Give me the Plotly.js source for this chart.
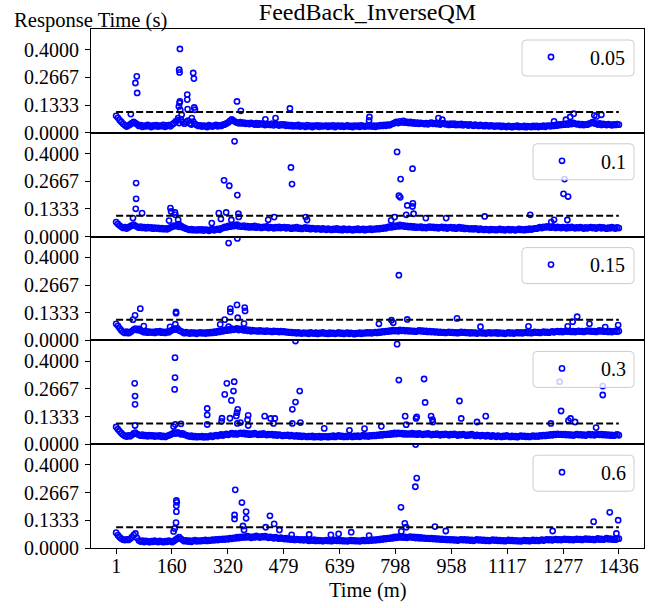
<!DOCTYPE html>
<html>
<head>
<meta charset="utf-8">
<script src="https://cdn.plot.ly/plotly-3.0.1.min.js"></script>
<style>
  html, body { margin: 0; padding: 0; background: #ffffff; }
  #chart { width: 657px; height: 608px; }
</style>
</head>
<body>
<div id="chart"></div>
<script>
// ---- data ---------------------------------------------------------------
// Legend labels of the five panels (top to bottom).
const seriesNames = ['0.05', '0.1', '0.15', '0.3', '0.6'];

// Axis ticks.
const xTickVals = [1, 160, 320, 479, 639, 798, 958, 1117, 1277, 1436];
const yTickVals = [0, 0.1333, 0.2667, 0.4];
const yTickText = ['0.0000', '0.1333', '0.2667', '0.4000'];

// Target response time drawn as the dashed reference line (s).
const threshold = 0.1;
const firstMinute = 1;
const lastMinute = 1436;
const stepMinutes = 5;

// Typical response time, one sample every 5 minutes from minute 1 (ms).
const rt005 = [
  82,72,61,52,43,36,30,35, 40,47,52,46,41,33,37,29, 35,31,38,33,28,36,32,37,
  30,35,32,38,29,34,37,31, 40,46,55,60,47,64,53,44, 51,58,45,40,54,43,37,33,
  36,30,35,32,28,37,33,30, 35,38,31,36,33,39,40,45, 50,57,64,58,53,49,46,51,
  45,49,43,47,42,48,44,40, 46,39,45,41,44,37,43,40, 38,44,36,42,39,35,41,37,
  40,34,38,33,37,31,36,32, 38,30,35,33,29,37,31,35, 28,34,32,36,29,35,31,33,
  35,29,34,31,36,28,33,35, 30,34,29,32,36,30,33,28, 35,31,34,29,36,32,30,35,
  31,36,30,34,29,35,32,37, 33,38,34,39,36,41,44,48, 52,47,55,50,57,49,53,47,
  52,46,50,44,49,43,48,45, 42,47,41,46,49,43,47,42, 45,40,44,46,41,43,38,44,
  39,44,37,42,38,43,36,41, 39,35,40,37,34,39,36,33, 38,35,32,37,34,31,36,33,
  30,35,31,34,29,33,30,28, 33,31,27,32,30,34,28,31, 29,33,27,32,30,28,33,29,
  33,28,32,30,34,29,33,35, 31,36,33,38,35,40,37,42, 39,44,40,46,42,48,44,41,
  43,38,42,37,41,39,44,47, 51,46,44,40,45,38,43,40, 37,42,39,36,41,38,42,39
];
const rt01 = [
  70,61,53,47,42,45,39,44, 49,54,58,52,47,43,48,42, 46,40,45,41,44,38,43,39,
  42,37,41,36,40,35,39,44, 48,53,50,55,47,52,45,42, 38,35,32,36,31,34,30,35,
  31,35,29,34,32,28,33,36, 30,34,37,33,39,42,47,44, 51,48,55,50,53,57,49,52,
  48,53,46,50,44,49,45,51, 43,48,46,42,47,44,49,41, 46,43,40,45,42,47,41,44,
  46,40,44,42,38,43,40,45, 39,42,37,41,44,38,42,36, 41,38,35,40,37,34,39,36,
  33,38,35,32,37,34,39,33, 36,31,38,35,32,37,34,30, 36,33,38,32,35,37,31,36,
  34,38,33,37,35,39,36,41, 38,43,40,45,48,44,51,47, 53,49,56,50,54,48,52,46,
  50,45,49,43,47,44,48,42, 46,41,45,48,43,47,42,45, 40,44,47,41,45,39,43,46,
  40,44,38,42,45,39,43,37, 41,38,36,40,35,39,37,33, 38,35,32,36,34,31,36,33,
  35,31,34,37,32,35,30,34, 36,31,35,33,30,34,37,32, 35,31,36,33,38,34,37,40,
  38,42,45,41,47,44,49,46, 43,48,45,42,47,44,41,46, 43,40,45,42,47,43,40,44,
  41,45,42,39,44,40,43,46, 41,44,39,43,45,40,44,41, 38,43,40,45,42,39,44,41
];
const rt015 = [
  80,70,58,48,40,36,42,35, 39,45,52,57,50,55,47,43, 39,44,37,42,38,41,36,43,
  39,44,37,41,36,42,39,45, 50,56,52,58,48,44,39,35, 40,36,33,38,34,37,32,36,
  39,34,37,33,38,35,40,36, 42,38,44,41,47,44,50,47, 53,49,56,51,54,58,50,55,
  52,48,53,46,50,44,49,45, 47,43,48,44,46,42,47,43, 45,41,46,42,44,40,45,41,
  43,39,41,37,40,36,39,34, 38,35,33,37,34,36,32,38, 35,33,37,31,36,34,38,33,
  35,31,37,33,36,32,34,38, 33,36,31,35,37,32,36,34, 30,35,33,37,32,36,34,38,
  35,39,34,37,40,36,41,38, 43,40,45,42,47,44,49,45, 48,44,50,46,49,45,48,44,
  47,43,46,42,45,48,44,47, 42,46,41,44,40,43,39,42, 38,41,37,40,36,39,41,37,
  40,36,39,35,38,41,37,40, 36,39,34,38,35,37,33,36, 39,34,37,33,36,38,34,37,
  35,38,33,37,34,36,32,35, 38,34,37,33,36,39,35,38, 34,37,40,36,39,35,38,41,
  37,40,36,39,42,38,41,37, 40,43,39,42,45,41,44,40, 43,46,42,45,41,44,40,43,
  46,42,45,41,44,47,43,46, 42,45,41,44,48,43,46,42, 45,41,44,40,43,46,42,45
];
const rt03 = [
  83,72,62,53,45,40,37,42, 38,44,52,56,49,45,41,46, 40,44,38,43,39,42,37,41,
  38,42,36,40,35,39,42,46, 50,55,51,57,53,48,52,46, 43,40,37,41,35,39,34,38,
  35,39,33,37,34,38,41,36, 40,44,39,43,47,42,46,50, 45,49,53,48,52,47,51,55,
  50,54,48,52,46,51,47,53, 49,45,50,46,52,47,44,49, 45,48,43,47,42,46,44,40,
  44,41,45,39,43,40,38,42, 37,41,36,40,38,35,39,36, 40,34,38,35,39,33,37,36,
  38,34,39,36,41,35,38,42, 37,40,35,39,36,42,38,35, 40,37,41,36,39,43,38,41,
  37,42,39,44,40,45,42,47, 43,48,45,50,46,52,48,54, 49,55,50,53,48,52,47,51,
  48,53,47,51,46,52,49,45, 50,47,52,48,44,49,46,51, 47,43,48,45,50,46,43,48,
  45,50,46,42,47,44,49,45, 41,46,43,48,44,40,45,42, 39,44,41,38,43,40,37,42,
  39,36,41,38,35,40,37,42, 38,35,40,36,39,34,38,41, 37,40,36,39,35,38,41,37,
  40,37,42,39,44,40,45,42, 47,43,48,45,50,46,49,45, 48,44,47,43,46,42,45,48,
  44,47,43,46,42,45,48,44, 47,43,46,49,45,48,44,47, 43,46,42,45,41,44,47,43
];
const rt06 = [
  74,62,52,45,40,38,41,39, 44,52,62,70,48,36,31,35, 29,34,32,28,33,30,35,31,
  29,34,31,28,33,30,35,32, 29,34,40,46,52,44,38,33, 37,31,35,30,34,38,32,36,
  33,37,35,39,34,38,36,40, 37,41,38,43,40,44,41,45, 42,47,44,49,46,52,48,53,
  50,55,51,57,53,49,55,51, 58,54,50,56,52,57,53,49, 54,50,47,52,48,45,50,46,
  43,47,42,45,40,44,39,43, 41,38,42,37,41,38,35,39, 36,40,34,38,35,37,33,36,
  38,34,37,33,36,39,35,38, 34,37,33,36,32,35,38,34, 37,33,36,32,35,38,34,37,
  35,39,36,40,37,42,39,44, 41,46,43,48,45,50,47,53, 49,55,51,54,50,53,49,52,
  55,50,53,48,52,47,51,46, 49,45,48,44,47,43,46,42, 45,41,44,40,43,39,42,38,
  41,37,40,36,39,42,38,41, 37,40,36,39,35,38,41,37, 40,36,39,35,38,34,37,40,
  36,39,35,38,34,37,33,36, 39,35,38,34,37,33,36,32, 35,38,34,37,33,36,39,35,
  38,34,37,40,36,39,42,38, 41,37,40,43,39,42,38,41, 44,40,43,39,42,38,41,44,
  40,43,39,42,45,41,44,40, 43,39,42,46,41,44,40,43, 47,42,45,41,44,40,43,45
];

// Slow requests: minute of occurrence and response time (s).
const spikeT005 = [43,56,60,61,178,180,181,182,183,183,182,184,188,204,204,205,217,221,223,224,226,
  346,357,427,456,497,723,724,921,932,1251,1285,1297,1307,1366,1372,1386];
const spikeV005 = [0.090,0.240,0.272,0.192,0.071,0.127,0.304,0.291,0.404,0.151,0.143,0.110,0.087,0.184,0.160,0.114,0.071,0.288,0.261,0.122,0.111,
  0.151,0.106,0.065,0.071,0.117,0.060,0.076,0.071,0.063,0.055,0.063,0.076,0.092,0.084,0.079,0.087];

const spikeT01 = [49,57,58,58,75,152,156,158,169,170,178,180,274,294,300,309,315,324,330,339,347,350,351,
  435,452,500,503,542,546,786,796,803,808,812,813,829,832,847,847,848,850,885,943,1053,1183,
  1243,1251,1278,1281,1289,1291];
const spikeV01 = [0.089,0.134,0.182,0.258,0.113,0.077,0.137,0.121,0.116,0.105,0.081,0.060,0.065,0.113,0.085,0.271,0.116,0.245,0.080,0.459,0.200,0.110,0.095,
  0.081,0.094,0.333,0.253,0.094,0.080,0.078,0.094,0.408,0.197,0.189,0.277,0.105,0.150,0.327,0.145,0.160,0.110,0.089,0.089,0.097,0.105,
  0.070,0.081,0.206,0.277,0.080,0.193];

const spikeT015 = [49,55,70,80,155,170,172,172,298,311,322,322,327,327,346,347,348,366,368,369,
  751,787,792,808,832,974,1041,1178,1290,1304,1317,1352,1397,1434];
const spikeV015 = [0.100,0.121,0.153,0.069,0.065,0.078,0.137,0.131,0.077,0.100,0.469,0.066,0.153,0.137,0.171,0.491,0.109,0.081,0.158,0.142,
  0.080,0.097,0.085,0.314,0.101,0.106,0.066,0.068,0.068,0.090,0.114,0.080,0.064,0.074];

const spikeT03 = [54,55,55,55,165,169,169,168,170,186,261,261,261,303,302,311,317,326,330,336,338,344,346,348,347,
  356,376,378,378,425,442,450,454,504,504,513,513,525,527,595,667,710,758,
  803,808,826,829,857,859,880,883,900,904,905,981,986,1031,1056,
  1242,1267,1271,1292,1298,1311,1371,1390,1390];
const spikeV03 = [0.293,0.232,0.192,0.090,0.085,0.417,0.321,0.264,0.095,0.098,0.172,0.141,0.095,0.125,0.110,0.240,0.293,0.125,0.211,0.256,0.301,0.136,0.152,0.168,0.100,
  0.104,0.118,0.139,0.090,0.135,0.124,0.100,0.124,0.168,0.100,0.203,0.497,0.256,0.104,0.076,0.067,0.075,0.086,
  0.482,0.309,0.135,0.094,0.124,0.132,0.314,0.201,0.135,0.118,0.107,0.208,0.124,0.107,0.135,
  0.100,0.301,0.160,0.114,0.124,0.107,0.080,0.237,0.280];

const spikeT06 = [165,168,172,173,173,174,173,339,339,341,360,363,366,372,372,428,440,452,467,502,552,
  614,636,672,723,814,815,825,829,855,856,859,911,942,1247,1364,1410,1429,1434];
const spikeV06 = [0.080,0.094,0.122,0.175,0.203,0.220,0.229,0.159,0.140,0.280,0.219,0.106,0.087,0.175,0.143,0.100,0.155,0.116,0.087,0.063,0.065,
  0.063,0.068,0.076,0.060,0.196,0.080,0.119,0.100,0.295,0.498,0.337,0.103,0.082,0.082,0.127,0.172,0.070,0.134];

const typical = [rt005, rt01, rt015, rt03, rt06];
const spikeTimes = [spikeT005, spikeT01, spikeT015, spikeT03, spikeT06];
const spikeValues = [spikeV005, spikeV01, spikeV015, spikeV03, spikeV06];

// ---- figure geometry ----------------------------------------------------
const W = 657, H = 608;
const plotL = 91, plotR = 644, plotT = 29, plotB = 548;
const plotW = plotR - plotL, plotH = plotB - plotT;
const nPanels = seriesNames.length;
const panelH = plotH / nPanels;
const pxToPaperX = px => (px - plotL) / plotW;
const pxToPaperY = py => (plotB - py) / plotH;

const FONT = '"Liberation Serif", "Times New Roman", Times, serif';
const BLUE = '#0000ff';
const LEGEND_ITEM_WIDTH = 68;
const LEGEND_SYMBOL_OFFSET = 39;

const traces = [];
const layout = {
  width: W,
  height: H,
  margin: { l: plotL, r: W - plotR, t: plotT, b: H - plotB, pad: 0 },
  paper_bgcolor: '#ffffff',
  plot_bgcolor: '#ffffff',
  font: { family: FONT, size: 20, color: '#000000' },
  showlegend: true,
  hovermode: false,
  title: {
    text: 'FeedBack_InverseQM',
    font: { family: FONT, size: 24, color: '#000000' },
    x: 0.5, xref: 'paper', xanchor: 'center',
    y: 1 - 12 / H, yref: 'container', yanchor: 'middle'
  },
  shapes: [],
  annotations: [
    {
      text: 'Response Time (s)', showarrow: false,
      xref: 'paper', x: pxToPaperX(12), xanchor: 'left',
      yref: 'paper', y: pxToPaperY(20), yanchor: 'middle',
      font: { family: FONT, size: 20.6, color: '#000000' }
    },
    {
      text: 'Time (m)', showarrow: false,
      xref: 'paper', x: 0.5, xanchor: 'center',
      yref: 'paper', y: pxToPaperY(590), yanchor: 'middle',
      font: { family: FONT, size: 20.6, color: '#000000' }
    }
  ]
};

// Rounded legend frame, in paper coordinates.
function roundedBox(x0px, y0px, x1px, y1px, r) {
  const x0 = pxToPaperX(x0px), x1 = pxToPaperX(x1px);
  const yT = pxToPaperY(y0px), yB = pxToPaperY(y1px);
  const rx = r / plotW, ry = r / plotH;
  return `M ${x0 + rx},${yT} L ${x1 - rx},${yT} Q ${x1},${yT} ${x1},${yT - ry} ` +
         `L ${x1},${yB + ry} Q ${x1},${yB} ${x1 - rx},${yB} L ${x0 + rx},${yB} ` +
         `Q ${x0},${yB} ${x0},${yB + ry} L ${x0},${yT - ry} Q ${x0},${yT} ${x0 + rx},${yT} Z`;
}

for (let k = 0; k < nPanels; k++) {
  const sfx = k === 0 ? '' : String(k + 1);
  const xa = 'x' + sfx, ya = 'y' + sfx;
  const isBottom = k === nPanels - 1;

  layout['xaxis' + sfx] = {
    domain: [0, 1],
    anchor: ya,
    range: [-70.75, 1507.75],
    showline: true, mirror: true, linecolor: '#000000', linewidth: 1,
    showgrid: false, zeroline: false,
    tickmode: 'array', tickvals: xTickVals,
    ticks: isBottom ? 'outside' : '', ticklen: 5, tickwidth: 1, tickcolor: '#000000',
    showticklabels: isBottom,
    ticklabelstandoff: -5,
    tickfont: { family: FONT, size: 20, color: '#000000' },
    fixedrange: true
  };
  if (k > 0) layout['xaxis' + sfx].matches = 'x';

  layout['yaxis' + sfx] = {
    domain: [1 - (k + 1) / nPanels, 1 - k / nPanels],
    anchor: xa,
    range: [0, 0.5],
    showline: true, mirror: true, linecolor: '#000000', linewidth: 1,
    showgrid: false, zeroline: false,
    tickmode: 'array', tickvals: yTickVals, ticktext: yTickText,
    ticks: 'outside', ticklen: 5, tickwidth: 1, tickcolor: '#000000',
    ticklabelstandoff: 2,
    tickfont: { family: FONT, size: 20, color: '#000000' },
    fixedrange: true
  };

  // Response times: regular samples plus slow requests.
  const rows = typical[k];
  const xs = rows.map((_, i) => firstMinute + stepMinutes * i).concat(spikeTimes[k]);
  const ys = rows.map(v => v / 1000).concat(spikeValues[k]);
  const legendId = 'legend' + sfx;
  traces.push({
    type: 'scatter', mode: 'markers',
    x: xs, y: ys, xaxis: xa, yaxis: ya,
    name: seriesNames[k], legend: legendId, showlegend: true,
    marker: { symbol: 'circle-open', size: 5.2, color: BLUE, line: { width: 1.6, color: BLUE } },
    cliponaxis: true, hoverinfo: 'skip'
  });

  // Dashed target line.
  traces.push({
    type: 'scatter', mode: 'lines',
    x: [firstMinute, lastMinute], y: [threshold, threshold],
    xaxis: xa, yaxis: ya, showlegend: false, hoverinfo: 'skip',
    line: { color: '#000000', width: 2, dash: '7px,3px' }
  });

  // Legend frame and entry.
  const topPx = plotT + k * panelH;
  const markerX = seriesNames[k].length > 3 ? 551 : 562;
  const markerY = topPx + 28;
  layout.shapes.push({
    type: 'path', xref: 'paper', yref: 'paper', layer: 'above',
    path: roundedBox(markerX - 29, topPx + 11, 634, topPx + 47, 4),
    fillcolor: 'rgba(255,255,255,0.8)',
    line: { color: '#cccccc', width: 1 }
  });
  layout[legendId] = {
    xref: 'paper', yref: 'paper',
    x: pxToPaperX(markerX - LEGEND_SYMBOL_OFFSET), xanchor: 'left',
    y: pxToPaperY(markerY), yanchor: 'middle',
    bgcolor: 'rgba(0,0,0,0)', borderwidth: 0,
    itemwidth: LEGEND_ITEM_WIDTH,
    font: { family: FONT, size: 20, color: '#000000' }
  };
}

Plotly.newPlot('chart', traces, layout, { staticPlot: true, displayModeBar: false });
</script>
</body>
</html>
